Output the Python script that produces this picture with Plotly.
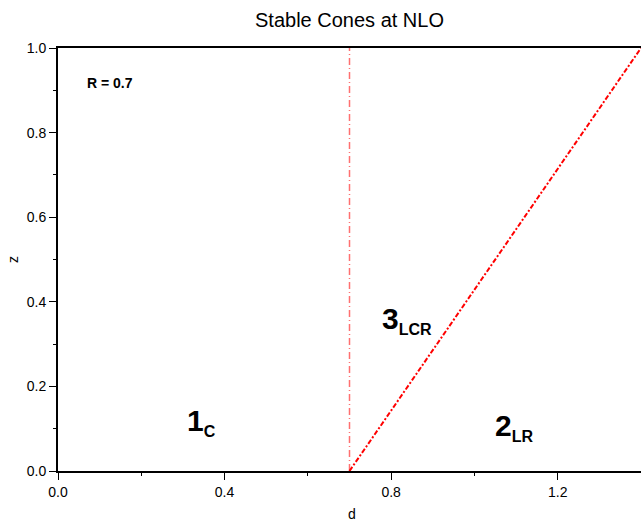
import plotly.graph_objects as go

# Boundary lines of the stable-cone regions (R = 0.7)
d_vert = [0.7, 0.7]
z_vert = [0.0, 1.0]
d_diag = [0.7, 1.4]
z_diag = [0.0, 1.0]

# Region labels: (main number, subscript, d, z)
region_labels = [
    ("1", "C", 0.344, 0.115),
    ("3", "LCR", 0.838, 0.358),
    ("2", "LR", 1.094, 0.104),
]

x_ticks = [0.0, 0.4, 0.8, 1.2]
x_minor = [0.2, 0.6, 1.0]
y_ticks = [0.0, 0.2, 0.4, 0.6, 0.8, 1.0]
y_minor = [0.1, 0.3, 0.5, 0.7, 0.9]

FONT = "Liberation Sans, Arial, sans-serif"
L, T, B, W, H = 58, 48, 51, 641, 522
plot_h = H - T - B
plot_w = W - L

fig = go.Figure()
fig.add_trace(go.Scatter(
    x=d_vert, y=z_vert, mode="lines",
    line=dict(color="#ff7070", width=1.5, dash="7px,3px,1px,3px"),
    showlegend=False, hoverinfo="skip",
))
fig.add_trace(go.Scatter(
    x=d_diag, y=z_diag, mode="lines",
    line=dict(color="#ff0000", width=2, dash="5px,2px,2px,2px"),
    showlegend=False, hoverinfo="skip",
))

annotations = [
    dict(x=0.124, y=0.918, xref="x", yref="y", text="<b>R = 0.7</b>",
         showarrow=False, font=dict(family=FONT, size=14, color="black"),
         xanchor="center", yanchor="middle"),
    # axis titles
    dict(x=(352 - L) / plot_w, y=-(514 - (H - B)) / plot_h, xref="paper", yref="paper",
         text="d", showarrow=False, font=dict(family=FONT, size=14, color="black"),
         xanchor="center", yanchor="middle"),
    dict(x=(13 - L) / plot_w, y=((H - B) - 260) / plot_h, xref="paper", yref="paper",
         text="z", textangle=-90, showarrow=False,
         font=dict(family=FONT, size=14, color="black"),
         xanchor="center", yanchor="middle"),
]
for num, sub, xd, yz in region_labels:
    annotations.append(dict(
        x=xd, y=yz, xref="x", yref="y",
        text=f"<b>{num}</b><sub><b><span style='font-size:16px'>{sub}</span></b></sub>",
        showarrow=False, font=dict(family=FONT, size=30, color="black"),
        xanchor="center", yanchor="middle",
    ))

fig.update_layout(
    width=W, height=H,
    margin=dict(l=L, r=0, t=T, b=B, autoexpand=False),
    paper_bgcolor="white", plot_bgcolor="white",
    font=dict(family=FONT, size=14, color="black"),
    title=dict(text="Stable Cones at NLO", x=(L + W) / 2 / W, xanchor="center",
               y=1 - 20 / H, yanchor="middle", yref="container",
               font=dict(family=FONT, size=20, color="black")),
    annotations=annotations,
    xaxis=dict(
        range=[0, 1.4], tickvals=x_ticks, ticktext=[f"{v:.1f}" for v in x_ticks],
        showgrid=False, zeroline=False, showline=True, linecolor="black", linewidth=2,
        mirror=True, ticks="outside", ticklen=7, tickwidth=1, tickcolor="black",
        minor=dict(tickvals=x_minor, ticks="outside", ticklen=3, tickwidth=1,
                   tickcolor="black", showgrid=False),
        automargin=False,
        tickfont=dict(family=FONT, size=14),
    ),
    yaxis=dict(
        range=[0, 1.0], tickvals=y_ticks, ticktext=[f"{v:.1f}" for v in y_ticks],
        showgrid=False, zeroline=False, showline=True, linecolor="black", linewidth=2,
        ticks="outside", ticklen=7, tickwidth=1, tickcolor="black",
        minor=dict(tickvals=y_minor, ticks="outside", ticklen=3,
                   tickwidth=1, tickcolor="black", showgrid=False),
        automargin=False,
        tickfont=dict(family=FONT, size=14),
    ),
)

fig.write_html("out.html")
